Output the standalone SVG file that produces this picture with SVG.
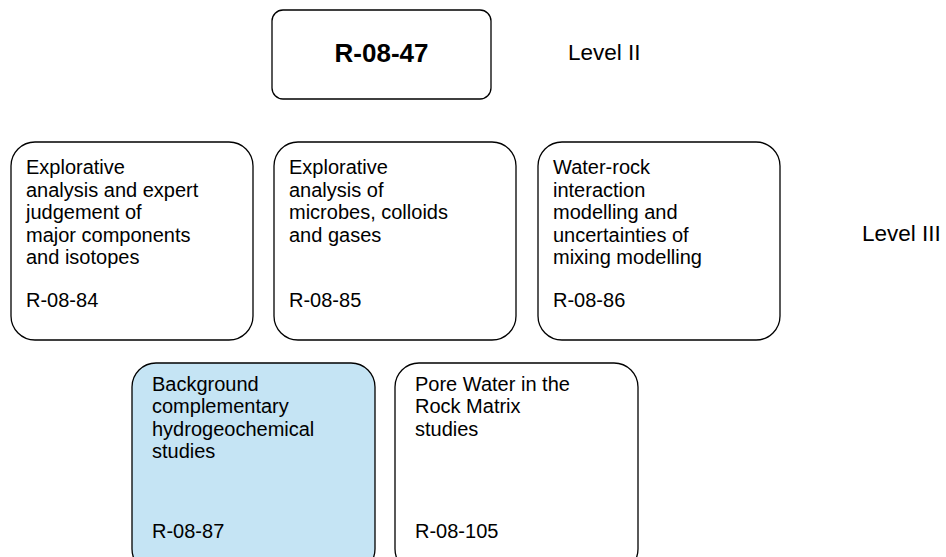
<svg xmlns="http://www.w3.org/2000/svg" width="946" height="557" viewBox="0 0 946 557">
<style>
.box{fill:#fff;stroke:#000;stroke-width:1.3}
.blue{fill:#C5E4F4}
.t{font-family:"Liberation Sans",Arial,sans-serif;font-size:20px;fill:#000}
.lvl{font-family:"Liberation Sans",Arial,sans-serif;font-size:22.5px;fill:#000}
.title{font-family:"Liberation Sans",Arial,sans-serif;font-size:26px;font-weight:bold;fill:#000}
</style>
<rect width="946" height="557" fill="#fff"/>
<g id="connectors"></g>
<g id="n0">
<rect class="box" x="272" y="10" width="219" height="89" rx="11"/>
<text class="title" x="381.5" y="62" text-anchor="middle">R-08-47</text>
</g>
<text class="lvl" x="568" y="60">Level II</text>
<text class="lvl" x="862" y="241">Level III</text>
<g id="n1">
<rect class="box" x="11" y="142" width="242" height="198" rx="24"/>
<text class="t"><tspan x="26" y="174">Explorative</tspan><tspan x="26" y="196.5">analysis and expert</tspan><tspan x="26" y="219">judgement of</tspan><tspan x="26" y="241.5">major components</tspan><tspan x="26" y="264">and isotopes</tspan><tspan x="26" y="307">R-08-84</tspan></text>
</g>
<g id="n2">
<rect class="box" x="274" y="142" width="242" height="198" rx="24"/>
<text class="t"><tspan x="289" y="174">Explorative</tspan><tspan x="289" y="196.5">analysis of</tspan><tspan x="289" y="219">microbes, colloids</tspan><tspan x="289" y="241.5">and gases</tspan><tspan x="289" y="307">R-08-85</tspan></text>
</g>
<g id="n3">
<rect class="box" x="538" y="142" width="242" height="198" rx="24"/>
<text class="t"><tspan x="553" y="174">Water-rock</tspan><tspan x="553" y="196.5">interaction</tspan><tspan x="553" y="219">modelling and</tspan><tspan x="553" y="241.5">uncertainties of</tspan><tspan x="553" y="264">mixing modelling</tspan><tspan x="553" y="307">R-08-86</tspan></text>
</g>
<g id="n4">
<rect class="box blue" x="132" y="363" width="243" height="210" rx="24"/>
<text class="t"><tspan x="152" y="390.5">Background</tspan><tspan x="152" y="413">complementary</tspan><tspan x="152" y="435.5">hydrogeochemical</tspan><tspan x="152" y="458">studies</tspan><tspan x="152" y="538">R-08-87</tspan></text>
</g>
<g id="n5">
<rect class="box" x="395" y="363" width="243" height="210" rx="24"/>
<text class="t"><tspan x="415" y="390.5">Pore Water in the</tspan><tspan x="415" y="413">Rock Matrix</tspan><tspan x="415" y="435.5">studies</tspan><tspan x="415" y="538">R-08-105</tspan></text>
</g>
</svg>
